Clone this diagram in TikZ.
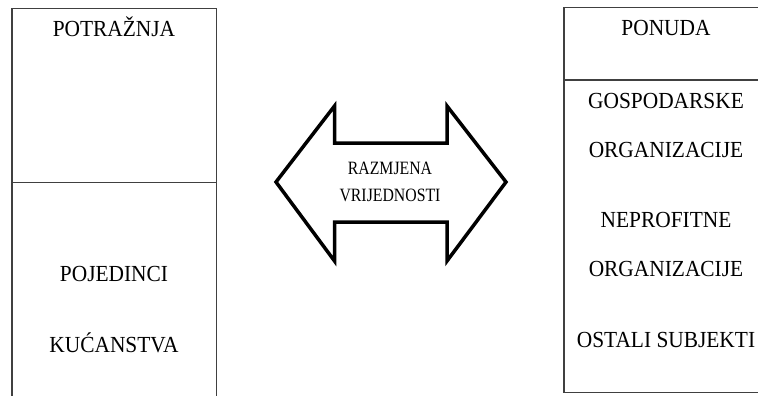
\documentclass[tikz,border=0pt]{standalone}
\usepackage{fontspec}
\setmainfont{Liberation Serif}
\newfontfamily\boxface[FakeStretch=0.93]{Liberation Serif}
\newfontfamily\arrowfont[FakeStretch=0.84]{Liberation Serif}
\newcommand{\boxfont}{\boxface\fontsize{23}{27}\selectfont}
\newcommand{\arrowsize}{\fontsize{18.8}{22}\selectfont}

\begin{document}
\begin{tikzpicture}[x=1pt,y=-1pt,
	boxtext/.style={anchor=base,inner sep=0pt,font=\boxfont},
	arrowtext/.style={anchor=base,inner sep=0pt,font=\arrowfont\arrowsize},
	frame/.style={line width=1.2pt,draw=black!75}]
	\useasboundingbox (0,0) rectangle (758,396);
	\clip (0,0) rectangle (758,396);

	% demand box
	\coordinate (D1) at (12,8.5);
	\coordinate (D2) at (216.5,8.5);
	\coordinate (D3) at (12,182.5);
	\coordinate (D4) at (216.5,182.5);
	\draw[frame] (12,400) -- (D1) -- (D2) -- (216.5,400);
	\draw[frame] (D3) -- (D4);

	% supply box
	\coordinate (S1) at (564,7.5);
	\coordinate (S2) at (770,7.5);
	\coordinate (S3) at (564,80);
	\coordinate (S4) at (770,80);
	\draw[frame] (S1) rectangle (770,392.5);
	\draw[frame] (S3) -- (S4);

	% double arrow
	\coordinate (L) at (276,182);
	\coordinate (R) at (506,182);
	\draw[line width=3.5pt,line join=miter] (L) -- (334.5,106) -- (334.5,143)
		-- (447,143) -- (447,106) -- (R) -- (447,261) -- (447,222)
		-- (334.5,222) -- (334.5,261) -- cycle;

	\node[arrowtext] (raz) at (390,174) {RAZMJENA};
	\node[arrowtext] (vri) at (390,201.5) {VRIJEDNOSTI};

	\node[boxtext] (pot) at (114,36.5) {POTRAŽNJA};
	\node[boxtext] (poj) at (114,281.5) {POJEDINCI};
	\node[boxtext] (kuc) at (114,352.5) {KUĆANSTVA};

	\node[boxtext] (pon) at (666,35.5) {PONUDA};
	\node[boxtext] (gos) at (666,108) {GOSPODARSKE};
	\node[boxtext] (org1) at (666,157) {ORGANIZACIJE};
	\node[boxtext] (nep) at (666,227) {NEPROFITNE};
	\node[boxtext] (org2) at (666,276) {ORGANIZACIJE};
	\node[boxtext] (ost) at (666,347) {OSTALI SUBJEKTI};

\end{tikzpicture}
\end{document}
